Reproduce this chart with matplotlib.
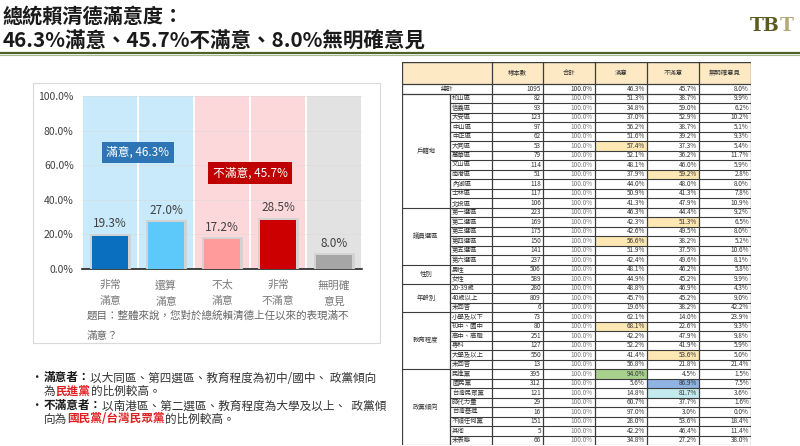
import matplotlib.pyplot as plt
import matplotlib.patheffects as pe
from matplotlib.lines import Line2D
from matplotlib.patches import Rectangle

plt.rcParams['font.family'] = ['Noto Sans CJK TC', 'DejaVu Sans']

# ---- chart data ----
categories = ['非常\n滿意', '還算\n滿意', '不太\n滿意', '非常\n不滿意', '無明確\n意見']
values = [19.3, 27.0, 17.2, 28.5, 8.0]
bar_colors = ['#0b6fbf', '#5dc9fb', '#ff9b9b', '#cc0000', '#a6a6a6']
band_colors = ['#c9eafb', '#c9eafb', '#fdd8db', '#fdd8db', '#e2e2e2']

# ---- table data ----
headers = ['樣本數', '合計', '滿意', '不滿意', '無明確意見']
total_row = [1095, 100.0, 46.3, 45.7, 8.0]
groups = ['戶籍地', '議員選區', '性別', '年齡別', '教育程度', '政黨傾向']
group_sizes = [12, 6, 2, 3, 6, 8]
row_labels = ['松山區', '信義區', '大安區', '中山區', '中正區', '大同區', '萬華區',
              '文山區', '南港區', '內湖區', '士林區', '北投區',
              '第一選區', '第二選區', '第三選區', '第四選區', '第五選區', '第六選區',
              '男性', '女性',
              '20-39歲', '40歲以上', '未回答',
              '小學及以下', '初中、國中', '高中、高職', '專科', '大學及以上', '未回答',
              '民進黨', '國民黨', '台灣民眾黨', '時代力量', '台灣基進', '不傾任何黨', '其他', '未表態']
sample_n = [82, 93, 123, 97, 62, 53, 79, 114, 51, 118, 117, 106,
            223, 169, 175, 150, 141, 237,
            506, 589,
            280, 809, 6,
            73, 80, 251, 127, 550, 13,
            395, 312, 121, 29, 16, 151, 5, 66]
row_total = 100.0
satisfied = [51.3, 34.8, 37.0, 56.2, 51.6, 57.4, 52.1, 48.1, 37.9, 44.0, 50.9, 41.3,
             46.3, 42.3, 42.6, 56.6, 51.9, 42.4,
             48.1, 44.9,
             48.8, 45.7, 19.6,
             62.1, 68.1, 42.2, 52.2, 41.4, 56.8,
             94.0, 5.6, 14.8, 60.7, 97.0, 28.0, 42.2, 34.8]
unsatisfied = [38.7, 59.0, 52.9, 38.7, 39.2, 37.3, 36.2, 46.0, 59.2, 48.0, 41.3, 47.9,
               44.4, 51.3, 49.5, 38.2, 37.5, 49.6,
               46.2, 45.2,
               46.9, 45.2, 38.2,
               14.0, 22.6, 47.9, 41.9, 53.6, 21.8,
               4.5, 86.9, 81.7, 37.7, 3.0, 53.6, 46.4, 27.2]
no_opinion = [9.9, 6.2, 10.2, 5.1, 9.3, 5.4, 11.7, 5.9, 2.8, 8.0, 7.8, 10.9,
              9.2, 6.5, 8.0, 5.2, 10.6, 8.1,
              5.8, 9.9,
              4.3, 9.0, 42.2,
              23.9, 9.3, 9.8, 5.9, 5.0, 21.4,
              1.5, 7.5, 3.6, 1.6, 0.0, 18.4, 11.4, 38.0]
# (row index, column index, fill)
highlights = [(5, 4, '#fde7b3'), (8, 5, '#fde7b3'), (13, 5, '#fde7b3'), (15, 4, '#fde7b3'),
              (24, 4, '#fde7b3'), (27, 5, '#fde7b3'), (29, 4, '#a9d18e'),
              (30, 5, '#8fb4e3'), (31, 5, '#c3eaee')]

W, H = 800, 446


def fx(x):
    return x / W


def fy(y):
    return 1 - y / H


fig = plt.figure(figsize=(8, 4.46), dpi=100)
renderer = fig.canvas.get_renderer()


def rich(x0, y0, parts, size=8.4, family=None):
    cx = x0
    for s, color, weight in parts:
        kw = {'family': family} if family else {}
        t = fig.text(fx(cx), fy(y0), s, fontsize=size, color=color, fontweight=weight,
                     va='center', ha='left', **kw)
        cx += t.get_window_extent(renderer=renderer).width


# ---- title ----
fig.text(fx(3), fy(16), '總統賴清德滿意度：', fontsize=14.5, fontweight='bold',
         va='center', ha='left', color='#1a1a1a')
fig.text(fx(3), fy(40), '46.3%滿意、45.7%不滿意、8.0%無明確意見', fontsize=14.8,
         fontweight='bold', va='center', ha='left', color='#1a1a1a')
fig.add_artist(Line2D([0, 1], [fy(53), fy(53)], color='#4f6228', lw=1.6))
fig.add_artist(Line2D([0, 1], [fy(55), fy(55)], color='#a9bd8c', lw=0.8))

# logo
rich(750, 26, [('TB', '#5b5a1f', 'bold'), ('T', '#b3a977', 'bold')], size=13.5,
     family='DejaVu Serif')

# ---- chart panel ----
fig.add_artist(Rectangle((fx(33), fy(343)), fx(380) - fx(33), fy(83) - fy(343),
                         transform=fig.transFigure, fill=False, ec='#d9d9d9', lw=0.8))

ax = fig.add_axes([fx(82), fy(269), fx(362) - fx(82), fy(96) - fy(269)])
x = range(len(values))
ax.bar(x, [100] * len(values), width=0.965, color=band_colors, zorder=0)
bars = ax.bar(x, values, width=0.64, color=bar_colors, zorder=3)
for b in bars:
    b.set_path_effects([pe.Stroke(linewidth=3.5, foreground='#d2d2d2'), pe.Normal()])
for xi, v in zip(x, values):
    ax.annotate(f'{v:.1f}%', (xi, v), xytext=(0, 4), textcoords='offset points',
                ha='center', va='bottom', fontsize=8.5, color='#404040', zorder=4)

ax.text(0.5, 67.5, f'滿意, {values[0] + values[1]:.1f}%', ha='center', va='center',
        color='white', fontsize=8.5, zorder=5,
        bbox=dict(boxstyle='square,pad=0.35', fc='#2e75b6', ec='none'))
ax.text(2.5, 55.5, f'不滿意, {values[2] + values[3]:.1f}%', ha='center', va='center',
        color='white', fontsize=8.5, zorder=5,
        bbox=dict(boxstyle='square,pad=0.35', fc='#c00000', ec='none'))

ax.set_xlim(-0.5, len(values) - 0.5)
ax.set_ylim(0, 100)
ax.set_yticks(range(0, 101, 20))
ax.set_yticklabels([f'{t:.1f}%' for t in range(0, 101, 20)])
ax.set_xticks(list(x))
ax.set_xticklabels(categories, linespacing=1.75)
ax.set_axisbelow(True)
ax.yaxis.grid(True, color='#d8d8d8', lw=0.5, alpha=0.6)
for s in ['left', 'right', 'top']:
    ax.spines[s].set_visible(False)
ax.spines['bottom'].set_color('#222222')
ax.spines['bottom'].set_linewidth(1.2)
ax.tick_params(axis='y', length=0, labelsize=7.5, colors='#404040', pad=6)
ax.tick_params(axis='x', length=0, labelsize=7.8, colors='#7a7a7a', pad=8)

fig.text(fx(87), fy(316), '題目：整體來說，您對於總統賴清德上任以來的表現滿不',
         fontsize=7.6, color='#666666', va='center')
fig.text(fx(87), fy(336), '滿意？', fontsize=7.6, color='#666666', va='center')

# ---- bullet text ----
fig.text(fx(30), fy(378), '•', fontsize=9, va='center', color='#222222')
fig.text(fx(30), fy(406), '•', fontsize=9, va='center', color='#222222')
rich(44, 378, [('滿意者：', '#1a1a1a', 'bold'),
               ('以大同區、第四選區、教育程度為初中/國中、 政黨傾向', '#333333', 'normal')])
rich(44, 391, [('為', '#333333', 'normal'), ('民進黨', '#e02020', 'bold'),
               ('的比例較高。', '#333333', 'normal')])
rich(44, 406, [('不滿意者：', '#1a1a1a', 'bold'),
               ('以南港區、第二選區、教育程度為大學及以上、  政黨傾', '#333333', 'normal')])
rich(44, 419, [('向為', '#333333', 'normal'), ('國民黨/台灣民眾黨', '#e02020', 'bold'),
               ('的比例較高。', '#333333', 'normal')])

# ---- table ----
col_w = [48, 42, 51, 52, 52, 52, 52]
edges = [0]
for w in col_w:
    edges.append(edges[-1] + w)
header_h = 22
row_h = 9.5
n_rows = len(row_labels) + 1
tab_h = header_h + row_h * n_rows

tax = fig.add_axes([fx(402), fy(445), fx(751) - fx(402), fy(62) - fy(445)])
tax.set_xlim(0, edges[-1])
tax.set_ylim(tab_h, 0)
tax.axis('off')

lc = '#3c3c3c'
fs = 4.6
tax.add_patch(Rectangle((0, 0), edges[-1], header_h, fc='#fde9c4', ec='none'))
for j, h in enumerate(headers):
    tax.text((edges[j + 2] + edges[j + 3]) / 2, header_h / 2, h, ha='center', va='center',
             fontsize=fs, color='#333333')

for r, c, col in highlights:
    y0 = header_h + row_h * (r + 1)
    tax.add_patch(Rectangle((edges[c], y0), col_w[c], row_h, fc=col, ec='none'))


def cell_texts(yc, n, tot, s, u, o, gray_total=True):
    tax.text(edges[3] - 2, yc, f'{n}', ha='right', va='center', fontsize=fs, color='#333333')
    tax.text(edges[4] - 2, yc, f'{tot:.1f}%', ha='right', va='center', fontsize=fs,
             color='#777777' if gray_total else '#333333')
    for k, v in enumerate([s, u, o]):
        tax.text(edges[5 + k] - 2, yc, f'{v:.1f}%', ha='right', va='center', fontsize=fs,
                 color='#333333')


# total row
yc = header_h + row_h / 2
tax.text((edges[0] + edges[2]) / 2, yc, '總計', ha='center', va='center', fontsize=fs,
         color='#333333')
cell_texts(yc, total_row[0], total_row[1], total_row[2], total_row[3], total_row[4], False)

# body rows
group_end = []
acc = 0
for g, gs in zip(groups, group_sizes):
    gy0 = header_h + row_h * (acc + 1)
    tax.text((edges[0] + edges[1]) / 2, gy0 + row_h * gs / 2, g, ha='center', va='center',
             fontsize=fs, color='#333333')
    acc += gs
    group_end.append(acc - 1)

for i, lab in enumerate(row_labels):
    y0 = header_h + row_h * (i + 1)
    yc = y0 + row_h / 2
    tax.text(edges[1] + 2, yc, lab, ha='left', va='center', fontsize=fs, color='#333333')
    cell_texts(yc, sample_n[i], row_total, satisfied[i], unsatisfied[i], no_opinion[i])
    x_start = edges[0] if i in group_end else edges[1]
    tax.plot([x_start, edges[-1]], [y0 + row_h] * 2, color=lc, lw=0.8)

tax.plot([0, edges[-1]], [header_h] * 2, color=lc, lw=0.9)
tax.plot([0, edges[-1]], [header_h + row_h] * 2, color=lc, lw=0.9)
tax.plot([0, edges[-1]], [0, 0], color=lc, lw=1.0)
for e in [edges[0], edges[-1]] + edges[2:-1]:
    tax.plot([e, e], [0, tab_h], color=lc, lw=0.9)
tax.plot([edges[1], edges[1]], [header_h + row_h, tab_h], color=lc, lw=0.9)

fig.savefig('out.png', dpi=100)
